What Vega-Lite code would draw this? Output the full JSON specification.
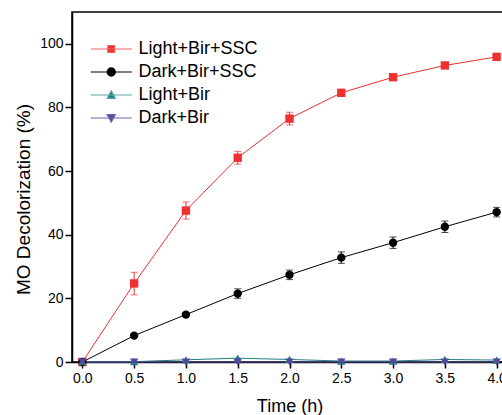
{
  "$schema": "https://vega.github.io/schema/vega-lite/v6.json",
  "autosize": "none",
  "padding": {"left": 72, "top": 12, "right": 0, "bottom": 53},
  "width": 435,
  "height": 350,
  "config": {
    "font": "Liberation Sans",
    "view": {"stroke": "black", "strokeWidth": 1.5},
    "axis": {
      "labelColor": "black", "titleColor": "black", "domainColor": "black", "tickColor": "black",
      "domainWidth": 1.5, "tickWidth": 1.5, "labelFontSize": 14, "titleFontSize": 18,
      "titleFontWeight": "normal", "grid": false
    }
  },
  "data": {
    "values": [
      {"series": "Light+Bir+SSC", "t": 0.0, "v": 0.0},
      {"series": "Light+Bir+SSC", "t": 0.5, "v": 24.7, "lo": 21.1, "hi": 28.2},
      {"series": "Light+Bir+SSC", "t": 1.0, "v": 47.6, "lo": 44.9, "hi": 50.3},
      {"series": "Light+Bir+SSC", "t": 1.5, "v": 64.2, "lo": 62.2, "hi": 66.2},
      {"series": "Light+Bir+SSC", "t": 2.0, "v": 76.5, "lo": 74.5, "hi": 78.5},
      {"series": "Light+Bir+SSC", "t": 2.5, "v": 84.6, "lo": 83.6, "hi": 85.6},
      {"series": "Light+Bir+SSC", "t": 3.0, "v": 89.5, "lo": 88.7, "hi": 90.3},
      {"series": "Light+Bir+SSC", "t": 3.5, "v": 93.2, "lo": 92.5, "hi": 93.9},
      {"series": "Light+Bir+SSC", "t": 4.0, "v": 95.9, "lo": 95.2, "hi": 96.6},
      {"series": "Dark+Bir+SSC", "t": 0.0, "v": 0.0},
      {"series": "Dark+Bir+SSC", "t": 0.5, "v": 8.3, "lo": 7.7, "hi": 8.9},
      {"series": "Dark+Bir+SSC", "t": 1.0, "v": 14.9, "lo": 14.3, "hi": 15.5},
      {"series": "Dark+Bir+SSC", "t": 1.5, "v": 21.5, "lo": 20.0, "hi": 23.0},
      {"series": "Dark+Bir+SSC", "t": 2.0, "v": 27.4, "lo": 25.9, "hi": 28.9},
      {"series": "Dark+Bir+SSC", "t": 2.5, "v": 32.8, "lo": 31.0, "hi": 34.6},
      {"series": "Dark+Bir+SSC", "t": 3.0, "v": 37.5, "lo": 35.7, "hi": 39.3},
      {"series": "Dark+Bir+SSC", "t": 3.5, "v": 42.5, "lo": 40.7, "hi": 44.3},
      {"series": "Dark+Bir+SSC", "t": 4.0, "v": 47.1, "lo": 45.6, "hi": 48.6},
      {"series": "Light+Bir", "t": 0.0, "v": 0.1},
      {"series": "Light+Bir", "t": 0.5, "v": 0.1},
      {"series": "Light+Bir", "t": 1.0, "v": 0.7},
      {"series": "Light+Bir", "t": 1.5, "v": 1.2},
      {"series": "Light+Bir", "t": 2.0, "v": 0.8},
      {"series": "Light+Bir", "t": 2.5, "v": 0.3},
      {"series": "Light+Bir", "t": 3.0, "v": 0.3},
      {"series": "Light+Bir", "t": 3.5, "v": 0.8},
      {"series": "Light+Bir", "t": 4.0, "v": 0.6},
      {"series": "Dark+Bir", "t": 0.0, "v": 0.0},
      {"series": "Dark+Bir", "t": 0.5, "v": 0.0},
      {"series": "Dark+Bir", "t": 1.0, "v": 0.0},
      {"series": "Dark+Bir", "t": 1.5, "v": 0.0},
      {"series": "Dark+Bir", "t": 2.0, "v": 0.0},
      {"series": "Dark+Bir", "t": 2.5, "v": 0.0},
      {"series": "Dark+Bir", "t": 3.0, "v": 0.0},
      {"series": "Dark+Bir", "t": 3.5, "v": 0.0},
      {"series": "Dark+Bir", "t": 4.0, "v": 0.0}
    ]
  },
  "encoding": {
    "x": {
      "field": "t", "type": "quantitative",
      "scale": {"domain": [-0.1, 4.1], "nice": false, "zero": false},
      "axis": {"title": "Time (h)", "values": [0, 0.5, 1, 1.5, 2, 2.5, 3, 3.5, 4], "format": ".1f", "tickSize": 6, "labelPadding": 3, "titlePadding": 12}
    },
    "color": {
      "field": "series", "type": "nominal",
      "scale": {"domain": ["Light+Bir+SSC", "Dark+Bir+SSC", "Light+Bir", "Dark+Bir"], "range": ["#ee3030", "#000000", "#218080", "#5546a0"]},
      "legend": null
    }
  },
  "layer": [
    {
      "mark": {"type": "line", "strokeWidth": 1, "clip": false},
      "encoding": {
        "y": {
          "field": "v", "type": "quantitative",
          "scale": {"domain": [0, 110], "nice": false},
          "axis": {
            "title": "MO Decolorization (%)",
            "titleFontSize": 19, "titleX": -49, "titleY": 187, "titleBaseline": "middle", "titleAngle": -90,
            "values": [0, 10, 20, 30, 40, 50, 60, 70, 80, 90, 100],
            "labelExpr": "datum.value % 20 === 0 ? datum.label : ''",
            "tickSize": {"condition": {"test": "datum.value % 20 === 0", "value": 7}, "value": 4},
            "labelPadding": 2
          }
        }
      }
    },
    {
      "transform": [{"filter": "isValid(datum.lo)"}],
      "mark": {"type": "rule", "strokeWidth": 1},
      "encoding": {"y": {"field": "lo", "type": "quantitative"}, "y2": {"field": "hi"}}
    },
    {
      "transform": [{"filter": "isValid(datum.lo)"}],
      "mark": {"type": "tick", "orient": "horizontal", "size": 7, "thickness": 1},
      "encoding": {"y": {"field": "lo", "type": "quantitative"}}
    },
    {
      "transform": [{"filter": "isValid(datum.hi)"}],
      "mark": {"type": "tick", "orient": "horizontal", "size": 7, "thickness": 1},
      "encoding": {"y": {"field": "hi", "type": "quantitative"}}
    },
    {
      "mark": {"type": "point", "filled": true, "opacity": 1, "clip": false},
      "encoding": {
        "y": {"field": "v", "type": "quantitative"},
        "shape": {
          "field": "series", "type": "nominal",
          "scale": {"domain": ["Light+Bir+SSC", "Dark+Bir+SSC", "Light+Bir", "Dark+Bir"], "range": ["square", "circle", "triangle-up", "triangle-down"]},
          "legend": null
        },
        "size": {"value": 70}
      }
    },
    {
      "mark": {"type": "point", "filled": true, "opacity": 0},
      "encoding": {
        "y": {"field": "v", "type": "quantitative"},
        "shape": {
          "field": "series", "type": "nominal",
          "scale": {
            "domain": ["Light+Bir+SSC", "Dark+Bir+SSC", "Light+Bir", "Dark+Bir"],
            "range": [
              "M-2,0H2M-0.34,-0.34H0.34V0.34H-0.34Z",
              "M-2,0H2M-0.4,0A0.4,0.4,0,1,0,0.4,0A0.4,0.4,0,1,0,-0.4,0Z",
              "M-2,0H2M0,-0.4L0.4,0.32L-0.4,0.32Z",
              "M-2,0H2M0,0.4L0.4,-0.32L-0.4,-0.32Z"
            ]
          },
          "legend": {
            "title": null, "orient": "none", "legendX": 28.25, "legendY": 26,
            "symbolSize": 420, "symbolStrokeWidth": 1, "symbolOpacity": 1,
            "labelFontSize": 18, "labelColor": "black", "labelOffset": 16.25, "rowPadding": 3,
            "encoding": {
              "symbols": {
                "fill": {"condition": [
                  {"test": "datum.value === 'Light+Bir+SSC'", "value": "#ee3030"},
                  {"test": "datum.value === 'Dark+Bir+SSC'", "value": "#000000"},
                  {"test": "datum.value === 'Light+Bir'", "value": "#218080"}
                ], "value": "#5546a0"},
                "stroke": {"condition": [
                  {"test": "datum.value === 'Light+Bir+SSC'", "value": "#f06060"},
                  {"test": "datum.value === 'Dark+Bir+SSC'", "value": "#000000"},
                  {"test": "datum.value === 'Light+Bir'", "value": "#5aa5a5"}
                ], "value": "#6f63b3"},
                "strokeWidth": {"value": 1.2},
                "opacity": {"value": 1}
              }
            }
          }
        },
        "size": {"value": 1}
      }
    }
  ],
  "resolve": {"scale": {"shape": "independent"}}
}
